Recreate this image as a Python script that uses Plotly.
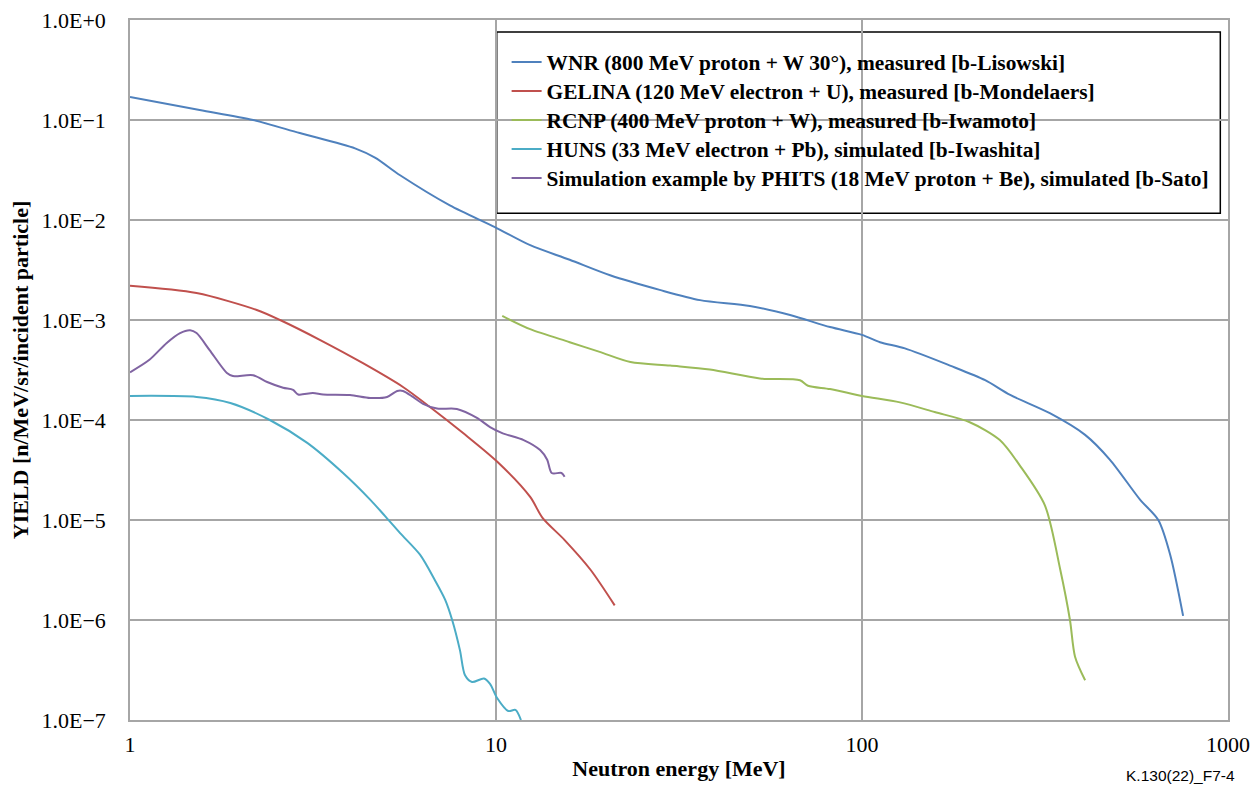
import plotly.graph_objects as go

# ---- data ----
wnr_e = [1.0, 1.55, 2.17, 2.91, 4.12, 4.67, 5.47, 7.48, 9.93, 12.4, 15.9, 20.5, 28.0, 36.1, 49.4,
         63.6, 81.8, 100, 112, 131, 174, 217, 254, 326, 407, 476, 575, 645, 695, 754]
wnr_y = [0.170, 0.126, 0.100, 0.074, 0.052, 0.042, 0.028, 0.014, 0.0085, 0.0056, 0.0040, 0.0028,
         0.0020, 0.00158, 0.00138, 0.00112, 0.00085, 0.00071, 0.00060, 0.00052, 0.00035, 0.00025,
         1.78e-4, 1.17e-4, 7.1e-5, 4.0e-5, 1.6e-5, 1.0e-5, 4.5e-6, 1.1e-6]

gelina_e = [1.0, 1.52, 2.22, 2.57, 3.31, 4.33, 5.57, 6.6, 8.13, 10.1, 12.4, 13.4, 15.4, 18.1, 21.1]
gelina_y = [2.2e-3, 1.86e-3, 1.26e-3, 1.0e-3, 6.3e-4, 3.7e-4, 2.14e-4, 1.35e-4, 7.4e-5, 3.8e-5,
            1.7e-5, 1.05e-5, 6.3e-6, 3.2e-6, 1.4e-6]

rcnp_e = [10.4, 12.4, 15.9, 19.2, 23.3, 29.9, 38.4, 52.6, 67.7, 71.2, 81.8, 100, 127, 158, 197,
          238, 270, 316, 348, 370, 382, 407]
rcnp_y = [1.1e-3, 8.1e-4, 6.0e-4, 4.8e-4, 3.8e-4, 3.5e-4, 3.2e-4, 2.6e-4, 2.5e-4, 2.2e-4, 2.04e-4,
          1.74e-4, 1.5e-4, 1.2e-4, 9.5e-5, 6.3e-5, 3.5e-5, 1.4e-5, 3.2e-6, 1.0e-6, 4.3e-7, 2.5e-7]

huns_e = [1.0, 1.52, 1.88, 2.41, 3.05, 3.82, 4.53, 4.97, 5.47, 6.2, 6.81, 7.26, 7.59, 7.97, 8.23,
          8.6, 9.27, 9.63, 10.07, 10.8, 11.3, 11.7]
huns_y = [1.74e-4, 1.7e-4, 1.48e-4, 1.0e-4, 5.9e-5, 2.95e-5, 1.6e-5, 1.1e-5, 7.4e-6, 4.5e-6,
          2.5e-6, 1.6e-6, 1.0e-6, 5.0e-7, 2.8e-7, 2.4e-7, 2.6e-7, 2.3e-7, 1.66e-7, 1.23e-7,
          1.26e-7, 1.0e-7]

phits_e = [1.0, 1.13, 1.26, 1.37, 1.46, 1.52, 1.65, 1.84, 1.91, 2.17, 2.37, 2.62, 2.79, 2.88, 3.16,
           3.37, 3.99, 4.53, 5.04, 5.37, 5.57, 5.93, 6.32, 6.9, 7.82, 8.87, 9.63, 10.4, 11.9,
           13.2, 13.8, 14.2, 15.1, 15.4]
phits_y = [3.0e-4, 4.0e-4, 5.9e-4, 7.4e-4, 7.9e-4, 7.4e-4, 5.0e-4, 2.95e-4, 2.75e-4, 2.8e-4,
           2.4e-4, 2.1e-4, 2.0e-4, 1.8e-4, 1.86e-4, 1.8e-4, 1.78e-4, 1.66e-4, 1.7e-4, 1.95e-4,
           1.95e-4, 1.7e-4, 1.45e-4, 1.3e-4, 1.29e-4, 1.05e-4, 8.5e-5, 7.4e-5, 6.3e-5, 5.0e-5,
           4.0e-5, 2.95e-5, 2.95e-5, 2.7e-5]

series_names = [
    "WNR (800 MeV proton + W 30°), measured [b-Lisowski]",
    "GELINA (120 MeV electron + U), measured [b-Mondelaers]",
    "RCNP (400 MeV proton + W), measured [b-Iwamoto]",
    "HUNS (33 MeV electron + Pb), simulated [b-Iwashita]",
    "Simulation example by PHITS (18 MeV proton + Be), simulated [b-Sato]",
]
series_colors = ["#4f81bd", "#c0504d", "#9bbb59", "#4bacc6", "#8064a2"]

x_tickvals = [1, 10, 100, 1000]
x_ticktext = ["1", "10", "100", "1000"]
y_tickvals = [1e0, 1e-1, 1e-2, 1e-3, 1e-4, 1e-5, 1e-6, 1e-7]
y_ticktext = ["1.0E+0", "1.0E\u22121", "1.0E\u22122", "1.0E\u22123", "1.0E\u22124",
              "1.0E\u22125", "1.0E\u22126", "1.0E\u22127"]

serif = "Liberation Serif"
grid = "#a6a6a6"

fig = go.Figure()
data = [(wnr_e, wnr_y), (gelina_e, gelina_y), (rcnp_e, rcnp_y), (huns_e, huns_y), (phits_e, phits_y)]
legend_ids = ["legend", "legend2", "legend3", "legend4", "legend5"]
for (xs, ys), name, col, lid in zip(data, series_names, series_colors, legend_ids):
    fig.add_trace(go.Scatter(x=xs, y=ys, mode="lines", name="<b>" + name + "</b>",
                             legend=lid,
                             line=dict(color=col, width=2, shape="spline", smoothing=0.8)))

# one legend per row so the row spacing matches the reference
row_y = [0.940, 0.8986, 0.8571, 0.8157, 0.7743]
legend_layout = {}
for lid, ry in zip(legend_ids, row_y):
    legend_layout[lid] = dict(x=0.343, y=ry, xanchor="left", yanchor="middle",
                              bgcolor="rgba(0,0,0,0)", borderwidth=0,
                              font=dict(family=serif, size=21.4, color="black"),
                              itemwidth=30)

# page body has an 8px margin, so the figure is sized/shifted to keep the plot area in place
fig.update_layout(
    width=1252, height=777,
    margin=dict(l=122, r=32, t=12, b=65),
    paper_bgcolor="white", plot_bgcolor="white",
    font=dict(family=serif, color="black"),
    showlegend=True,
    xaxis=dict(type="log", range=[0, 3], tickvals=x_tickvals, ticktext=x_ticktext,
               automargin=False, ticklabeloverflow="allow",
               showgrid=True, gridcolor=grid, gridwidth=1.5,
               showline=True, linecolor=grid, linewidth=1.5, mirror=True,
               ticks="", tickfont=dict(family=serif, size=22), ticklabelstandoff=4,
               title=dict(text="<b>Neutron energy [MeV]</b>", font=dict(family=serif, size=22),
                          standoff=4)),
    yaxis=dict(type="log", range=[-7, 0], tickvals=y_tickvals, ticktext=y_ticktext,
               automargin=False, ticklabeloverflow="allow",
               showgrid=True, gridcolor=grid, gridwidth=1.5,
               showline=True, linecolor=grid, linewidth=1.5, mirror=True,
               ticks="", tickfont=dict(family=serif, size=22), ticklabelstandoff=18,
               title=dict(text="<b>YIELD [n/MeV/sr/incident particle]</b>",
                          font=dict(family=serif, size=22), standoff=10)),
    **legend_layout,
)

# legend frame
fig.add_shape(type="rect", xref="paper", yref="paper", x0=0.334, x1=0.993, y0=0.724, y1=0.983,
              line=dict(color="black", width=1.5), fillcolor="white", layer="below")

fig.add_annotation(text="K.130(22)_F7-4", xref="paper", yref="paper", x=1.008, y=-0.0786,
                   xanchor="right", yanchor="middle", showarrow=False,
                   font=dict(family="Liberation Sans", size=15.5, color="black"))

fig.write_html("out.html")
